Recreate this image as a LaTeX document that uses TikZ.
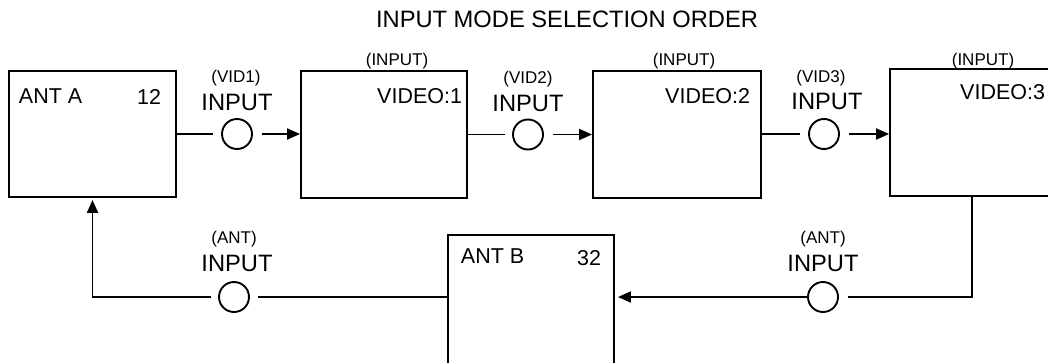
\documentclass[tikz,border=0pt]{standalone}
\usepackage{fontspec}
\setmainfont{Liberation Sans}
\usetikzlibrary{arrows.meta}
\begin{document}
\begin{tikzpicture}[x=1pt,y=-1pt,line width=1.9pt,
  box/.style={draw,rectangle,inner sep=0pt,line width=1.9pt},
  ring/.style={draw,circle,minimum size=30pt,inner sep=0pt,line width=1.9pt},
  lbl/.style={inner sep=0pt,anchor=base,font=\fontsize{17}{17}\selectfont},
  big/.style={inner sep=0pt,anchor=base,font=\fontsize{23.7}{24}\selectfont},
  boxtxt/.style={inner sep=0pt,font=\fontsize{21.5}{21.5}\selectfont},
  arr/.style={-{Triangle[length=13pt,width=11pt]}}]
\useasboundingbox (0,0) rectangle (1048,362);
\clip (0,0) rectangle (1048,362);
% boxes
\node[box,minimum width=167pt,minimum height=126pt] (anta) at (92.5,134) {};
\node[box,minimum width=166pt,minimum height=127pt] (v1) at (384,134.5) {};
\node[box,minimum width=168pt,minimum height=127pt] (v2) at (677,134.5) {};
\node[box,minimum width=164pt,minimum height=127pt] (v3) at (972,132.5) {};
\node[box,minimum width=166pt,minimum height=140pt] (antb) at (531,305) {};
% circles
\node[ring] (c1) at (237,134) {};
\node[ring] (c2) at (528,134.5) {};
\node[ring] (c3) at (824,134) {};
\node[ring] (c4) at (234,297) {};
\node[ring] (c5) at (823,297) {};
% title
\node[big] (title) at (567,27) {INPUT MODE SELECTION ORDER};
% labels top
\node[lbl] (l1a) at (236,82) {(VID1)};
\node[big] (l1b) at (237,110) {INPUT};
\node[lbl] (l2a) at (528,83) {(VID2)};
\node[big] (l2b) at (528,111) {INPUT};
\node[lbl] (l3a) at (821,82) {(VID3)};
\node[big] (l3b) at (827,109) {INPUT};
\node[lbl] (i1) at (397,65) {(INPUT)};
\node[lbl] (i2) at (684,65) {(INPUT)};
\node[lbl] (i3) at (983,65) {(INPUT)};
% box texts
\node[boxtxt,anchor=base west] (ta) at (18,103) {ANT A};
\node[boxtxt,anchor=base east] (na) at (162,104) {12};
\node[boxtxt,anchor=base east] (tv1) at (463,103) {VIDEO:1};
\node[boxtxt,anchor=base east] (tv2) at (751,103) {VIDEO:2};
\node[boxtxt,anchor=base east] (tv3) at (1046,99) {VIDEO:3};
\node[boxtxt,anchor=base west] (tb) at (460,263) {ANT B};
\node[boxtxt,anchor=base east] (nb) at (602,265) {32};
% labels bottom
\node[lbl] (l4a) at (234,243) {(ANT)};
\node[big] (l4b) at (237,271) {INPUT};
\node[lbl] (l5a) at (823,243) {(ANT)};
\node[big] (l5b) at (823,271) {INPUT};
% connectors
\draw[shorten >=8pt] (anta.east |- c1) -- (c1);
\draw[arr,shorten <=9pt] (c1) -- (c1 -| v1.west);
\draw[shorten >=7pt] (v1.east |- c2) -- (c2);
\draw[arr,shorten <=9pt] (c2) -- (c2 -| v2.west);
\draw[shorten >=8pt] (v2.east |- c3) -- (c3);
\draw[arr,shorten <=9pt] (c3) -- (c3 -| v3.west);
\draw[shorten >=9pt] (v3.south) |- (c5);
\draw[arr,shorten >=3pt] (c5) -- (c5 -| antb.east);
\draw[shorten >=8pt] (antb.west |- c4) -- (c4);
\draw[arr,shorten <=7pt,shorten >=2pt] (c4) -| (anta.south);
\end{tikzpicture}
\end{document}
